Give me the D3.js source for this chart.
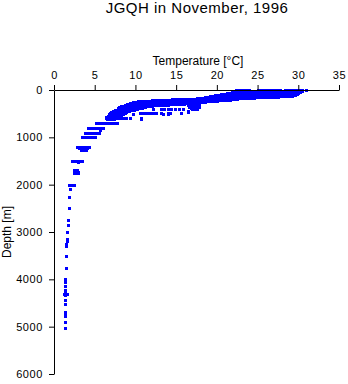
<!DOCTYPE html>
<html>
<head>
<meta charset="utf-8">
<script src="https://cdn.jsdelivr.net/npm/d3@7"></script>
<style>
body { margin: 0; background: #fff; }
text { font-family: "Liberation Sans", Arial, sans-serif; fill: #000; }
</style>
</head>
<body>
<svg width="348" height="384"></svg>
<script>
// runs of readings at one depth: depth [m], lowest and highest temperature [°C]
var runDepth = [0, 0, 0, 20, 40, 60, 80, 100, 120, 140, 160, 180, 200, 220, 240, 260, 280, 300,
  320, 340, 360, 380, 400, 420, 440, 460, 480, 500, 520, 540, 560, 580, 600, 620,
  320, 350, 380, 410, 495, 700, 700, 800, 900, 1000, 1200, 1230, 1260, 1500,
  1700, 1730, 1760, 2000, 4300];
var runTmin = [22.3, 25.0, 28.4, 22.0, 21.8, 21.2, 20.5, 19.8, 19.2, 18.5, 17.5, 16.5, 14.5, 12.0, 10.3, 9.7, 9.3, 9.0,
  8.7, 8.2, 8.0, 7.9, 7.8, 7.5, 7.2, 7.0, 6.9, 6.8, 6.7, 6.6, 6.5, 6.4, 6.4, 6.5,
  16.4, 16.6, 16.8, 17.0, 10.6, 5.2, 7.3, 4.2, 3.8, 3.4, 2.8, 3.1, 3.3, 2.2,
  2.4, 2.4, 2.5, 1.8, 1.2];
var runTmax = [24.0, 27.8, 30.5, 30.4, 30.2, 30.0, 29.8, 29.6, 29.2, 27.5, 24.5, 22.5, 22.0, 21.6, 20.0, 18.5, 17.2, 16.0,
  14.0, 12.0, 11.2, 10.8, 10.2, 9.8, 9.2, 8.9, 8.7, 8.5, 8.2, 8.0, 7.9, 7.7, 8.9, 7.4,
  17.8, 17.8, 17.6, 17.5, 12.5, 6.9, 7.7, 6.0, 5.5, 5.0, 4.3, 4.1, 3.9, 3.4,
  2.8, 2.9, 2.9, 2.5, 1.6];

// single readings
var ptDepth = [0, 400, 400, 400, 400, 400, 400, 400, 400, 440, 460, 490, 490, 490, 490, 500, 500, 500,
  600, 590, 610, 840, 1520, 2100, 2250, 2500, 2750, 2850, 3000, 3150, 3200, 3250, 3300, 3500,
  3750, 4000, 4060, 4150, 4220, 4250, 4330, 4430, 4520, 4700, 4750, 4780, 4910, 5030];
var ptTemp = [30.9, 12.2, 13.2, 13.5, 14.0, 14.4, 14.9, 15.3, 15.8, 16.4, 16.4, 13.2, 14.0, 14.2, 15.6, 9.7, 13.4, 14.0,
  9.3, 10.7, 10.7, 5.6, 3.0, 2.0, 1.9, 1.8, 1.7, 1.7, 1.6, 1.55, 1.55, 1.5, 1.5, 1.5,
  1.45, 1.4, 1.4, 1.4, 1.35, 1.35, 1.35, 1.4, 1.4, 1.4, 1.4, 1.4, 1.4, 1.35];

var tempTicks = [0, 5, 10, 15, 20, 25, 30, 35];
var depthTicks = [0, 1000, 2000, 3000, 4000, 5000, 6000];

var svg = d3.select('svg'),
  blue = '#0000ff';

var x = d3.scaleLinear().domain([0, 35]).range([54, 339]);
var y = d3.scaleLinear().domain([0, 6000]).range([90, 374]);

var runs = runDepth.map(function(d, i) { return { d: d, t0: runTmin[i], t1: runTmax[i] }; });
var pts = ptDepth.map(function(d, i) { return { d: d, t: ptTemp[i] }; });

// readings, drawn as small squares
svg.append('g').selectAll('rect')
  .data(runs)
  .enter().append('rect')
  .attr('x', function(r) { return Math.round(x(r.t0)) - 1; })
  .attr('y', function(r) { return Math.round(y(r.d)) - 1; })
  .attr('width', function(r) { return Math.round(x(r.t1)) - Math.round(x(r.t0)) + 3; })
  .attr('height', 3)
  .attr('fill', blue);

svg.append('g').selectAll('rect')
  .data(pts)
  .enter().append('rect')
  .attr('x', function(p) { return Math.round(x(p.t)) - 1; })
  .attr('y', function(p) { return Math.round(y(p.d)) - 1; })
  .attr('width', 3)
  .attr('height', 3)
  .attr('fill', blue);

// axes
svg.append('g')
  .attr('transform', 'translate(0,90)')
  .call(d3.axisTop(x).tickValues(tempTicks).tickFormat(d3.format('d'))
    .tickSize(5).tickPadding(6).tickSizeOuter(0));

svg.append('g')
  .attr('transform', 'translate(54,0)')
  .call(d3.axisLeft(y).tickValues(depthTicks).tickFormat(d3.format('d'))
    .tickSize(5).tickPadding(6).tickSizeOuter(0));

svg.selectAll('.tick text')
  .attr('font-size', 11)
  .style('letter-spacing', '0.6px');

// labels
svg.append('text')
  .attr('x', 197).attr('y', 13)
  .attr('text-anchor', 'middle')
  .attr('font-size', 15)
  .style('letter-spacing', '0.5px')
  .text('JGQH in November, 1996');

svg.append('text')
  .attr('x', 198).attr('y', 65)
  .attr('text-anchor', 'middle')
  .attr('font-size', 12)
  .text('Temperature [°C]');

svg.append('text')
  .attr('transform', 'translate(11,232) rotate(-90)')
  .attr('text-anchor', 'middle')
  .attr('font-size', 12)
  .text('Depth [m]');
</script>
</body>
</html>
